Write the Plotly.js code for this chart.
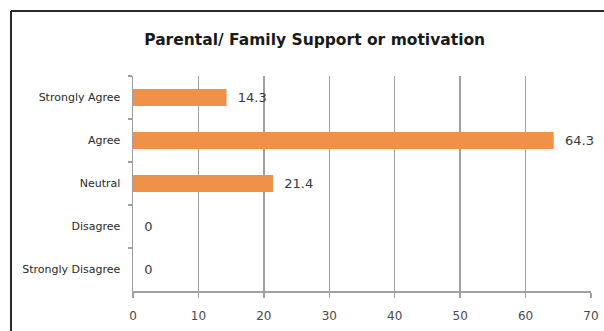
<!DOCTYPE html>
<html>
<head>
<meta charset="utf-8">
<script src="https://cdn.plot.ly/plotly-3.0.1.min.js"></script>
<style>
  html, body { margin: 0; padding: 0; background: #ffffff; }
  #chart { width: 604px; height: 331px; }
</style>
</head>
<body>
<div id="chart"></div>
<script>
const categories = ["Strongly Agree", "Agree", "Neutral", "Disagree", "Strongly Disagree"];
const percentages = [14.3, 64.3, 21.4, 0, 0];
const xTickValues = [0, 10, 20, 30, 40, 50, 60, 70];
const chartTitle = "Parental/ Family Support or motivation";

const trace = {
  type: "bar",
  orientation: "h",
  y: categories,
  x: percentages,
  text: percentages.map(v => "  " + String(v)),
  textposition: "outside",
  cliponaxis: false,
  textfont: { family: "'DejaVu Sans', sans-serif", size: 13, color: "#3a3a3a" },
  marker: { color: "#F0914A" },
  hoverinfo: "none"
};

const layout = {
  width: 604,
  height: 331,
  margin: { l: 133, r: 13, t: 76, b: 40 },
  paper_bgcolor: "#ffffff",
  plot_bgcolor: "#ffffff",
  showlegend: false,
  bargap: 0.6,
  title: {
    text: chartTitle,
    font: { family: "'DejaVu Sans', sans-serif", size: 15.5, color: "#1a1a1a", weight: 700 },
    x: 0.521, xref: "container", xanchor: "center",
    y: 1, yref: "container", yanchor: "top", pad: { t: 34 }
  },
  xaxis: {
    range: [0, 70],
    tickvals: xTickValues,
    ticktext: xTickValues.map(String),
    showgrid: true,
    gridcolor: "#a0a0a0",
    gridwidth: 1.5,
    zeroline: false,
    showline: true,
    linecolor: "#a0a0a0",
    linewidth: 1.5,
    ticks: "outside",
    ticklen: 5,
    tickcolor: "#a0a0a0",
    tickwidth: 1.5,
    ticklabelstandoff: 8,
    tickfont: { family: "'DejaVu Sans', sans-serif", size: 12, color: "#4a4a4a" },
    fixedrange: true
  },
  yaxis: {
    type: "category",
    categoryorder: "array",
    categoryarray: categories,
    autorange: "reversed",
    showgrid: false,
    zeroline: false,
    showline: true,
    linecolor: "#a0a0a0",
    linewidth: 1.5,
    ticks: "outside",
    tickson: "boundaries",
    ticklen: 4,
    tickcolor: "#a0a0a0",
    tickwidth: 1.5,
    ticklabelstandoff: 9,
    tickfont: { family: "'DejaVu Sans', sans-serif", size: 11, color: "#2a2a2a" },
    fixedrange: true
  },
  shapes: [
    { type: "line", xref: "paper", yref: "paper", x0: -0.2664, x1: 1.1, y0: 1.3023, y1: 1.3023,
      line: { color: "#2a2a2a", width: 2 } },
    { type: "line", xref: "paper", yref: "paper", x0: -0.2664, x1: -0.2664, y0: -0.3, y1: 1.3023,
      line: { color: "#2a2a2a", width: 2 } }
  ]
};

Plotly.newPlot("chart", [trace], layout, { displayModeBar: false, staticPlot: true });
</script>
</body>
</html>
